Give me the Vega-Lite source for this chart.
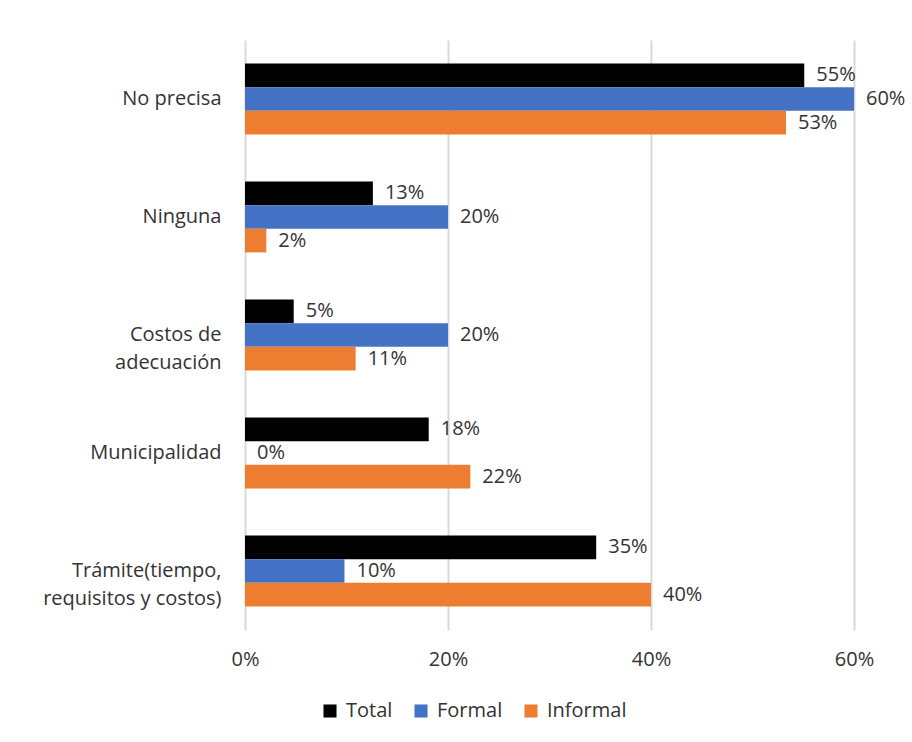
{
  "$schema": "https://vega.github.io/schema/vega-lite/v6.json",
  "width": 609,
  "height": 590,
  "padding": {"left": 10, "top": 40, "right": 5, "bottom": 5},
  "background": "white",
  "config": {
    "view": {"stroke": null},
    "font": "Open Sans",
    "axis": {"labelFont": "Open Sans", "labelFontSize": 20, "labelColor": "#333333"},
    "legend": {"labelFont": "Open Sans", "labelFontSize": 20, "labelColor": "#333333"}
  },
  "data": {
    "values": [
      {"cat": "No precisa", "serie": "Total", "value": 0.551},
      {"cat": "No precisa", "serie": "Formal", "value": 0.60},
      {"cat": "No precisa", "serie": "Informal", "value": 0.533},
      {"cat": "Ninguna", "serie": "Total", "value": 0.126},
      {"cat": "Ninguna", "serie": "Formal", "value": 0.20},
      {"cat": "Ninguna", "serie": "Informal", "value": 0.021},
      {"cat": "Costos de|adecuación", "serie": "Total", "value": 0.048},
      {"cat": "Costos de|adecuación", "serie": "Formal", "value": 0.20},
      {"cat": "Costos de|adecuación", "serie": "Informal", "value": 0.109},
      {"cat": "Municipalidad", "serie": "Total", "value": 0.181},
      {"cat": "Municipalidad", "serie": "Formal", "value": 0.0},
      {"cat": "Municipalidad", "serie": "Informal", "value": 0.222},
      {"cat": "Trámite(tiempo,|requisitos y costos)", "serie": "Total", "value": 0.346},
      {"cat": "Trámite(tiempo,|requisitos y costos)", "serie": "Formal", "value": 0.098},
      {"cat": "Trámite(tiempo,|requisitos y costos)", "serie": "Informal", "value": 0.40}
    ]
  },
  "encoding": {
    "y": {
      "field": "cat",
      "type": "nominal",
      "sort": ["No precisa", "Ninguna", "Costos de|adecuación", "Municipalidad", "Trámite(tiempo,|requisitos y costos)"],
      "scale": {"paddingInner": 0.4, "paddingOuter": 0.2},
      "axis": {
        "title": null,
        "ticks": false,
        "domain": false,
        "labelPadding": 24,
        "labelLineHeight": 28,
        "labelExpr": "split(datum.value, '|')",
        "minExtent": 235,
        "maxExtent": 235,
        "labelLimit": 300
      }
    },
    "yOffset": {
      "field": "serie",
      "type": "nominal",
      "sort": ["Total", "Formal", "Informal"],
      "scale": {"paddingInner": 0, "paddingOuter": 0}
    },
    "x": {
      "field": "value",
      "type": "quantitative",
      "scale": {"domain": [0, 0.6], "nice": false},
      "axis": {
        "title": null,
        "format": ".0%",
        "values": [0, 0.2, 0.4, 0.6],
        "ticks": false,
        "domain": false,
        "grid": true,
        "gridColor": "#d9d9d9",
        "gridWidth": 2,
        "labelPadding": 19,
        "labelOverlap": false,
        "labelFlush": false,
        "labelBound": false
      }
    }
  },
  "layer": [
    {
      "mark": {"type": "bar"},
      "encoding": {
        "color": {
          "field": "serie",
          "type": "nominal",
          "sort": ["Total", "Formal", "Informal"],
          "scale": {"domain": ["Total", "Formal", "Informal"], "range": ["#000000", "#4472C4", "#ED7D31"]},
          "legend": {
            "title": null,
            "orient": "none",
            "direction": "horizontal",
            "legendX": 75,
            "legendY": 661,
            "symbolType": "square",
            "symbolSize": 170,
            "symbolStrokeWidth": 0,
            "columnPadding": 18,
            "labelOffset": 6
          }
        }
      }
    },
    {
      "mark": {"type": "text", "align": "left", "baseline": "middle", "dx": 12, "fontSize": 20, "color": "#333333", "font": "Open Sans"},
      "encoding": {
        "text": {"field": "value", "type": "quantitative", "format": ".0%"}
      }
    }
  ]
}
